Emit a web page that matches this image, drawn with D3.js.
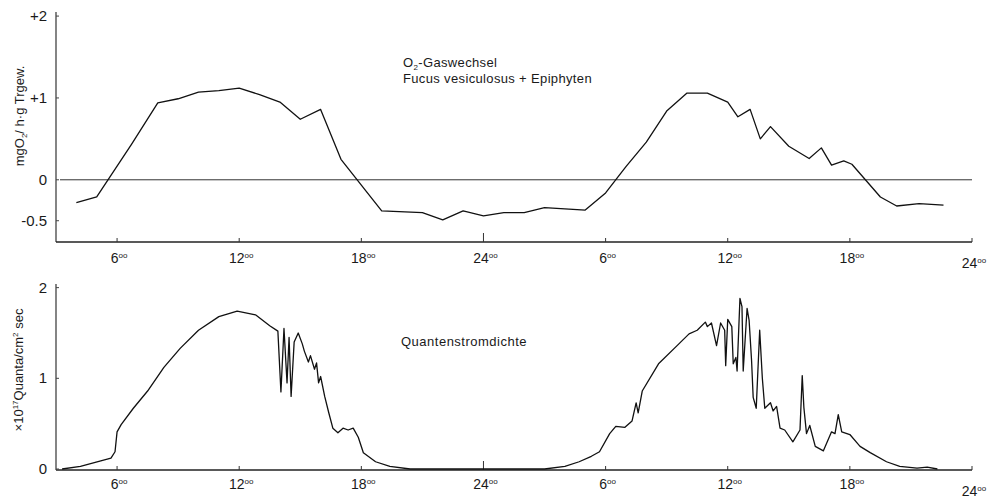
<!DOCTYPE html>
<html>
<head>
<meta charset="utf-8">
<script src="https://cdn.jsdelivr.net/npm/d3@7"></script>
<style>
  body { margin: 0; background: #fff; }
  svg text { font-family: "Liberation Sans", Arial, sans-serif; fill: #1a1a1a; }
</style>
</head>
<body>
<div id="chart"></div>
<script>
// hour ticks on both time axes (day 1 -> day 2)
const hourTicks = [6, 12, 18, 24, 30, 36, 42, 48];
const hourLabels = ["6", "12", "18", "24", "6", "12", "18", "24"];

// O2 gas exchange, mg O2 / h g dry weight
const o2Hours = [4.0, 5.0, 6.7, 8.0, 9.0, 10.0, 11.0, 12.0, 13.0, 14.0, 15.0, 16.0, 17.0,
  19.0, 21.0, 22.0, 23.0, 24.0, 25.0, 26.0, 27.0, 29.0, 30.0, 31.0, 32.0, 33.0, 34.0, 35.0,
  36.0, 36.5, 37.1, 37.6, 38.1, 39.0, 40.0, 40.6, 41.1, 41.7, 42.1, 43.5, 44.3, 45.4, 46.6];
const o2Values = [-0.28, -0.21, 0.43, 0.94, 0.99, 1.07, 1.09, 1.12, 1.04, 0.95, 0.74, 0.86, 0.25,
  -0.38, -0.40, -0.49, -0.38, -0.44, -0.40, -0.40, -0.34, -0.37, -0.16, 0.16, 0.46, 0.84, 1.06, 1.06,
  0.95, 0.77, 0.86, 0.50, 0.65, 0.41, 0.26, 0.39, 0.18, 0.23, 0.19, -0.21, -0.32, -0.29, -0.31];
const o2Ticks = [2, 1, 0, -0.5];
const o2TickLabels = ["+2", "+1", "0", "-0.5"];

// photon flux density, x10^17 quanta / cm2 sec
const lightHours = [3.3, 4.2, 5.2, 5.7, 5.9, 6.0, 6.2, 6.8, 7.5, 8.3, 9.1, 10.0, 11.0, 11.9,
  12.8, 13.5, 13.9, 14.05, 14.2, 14.35, 14.45, 14.55, 14.7, 14.9, 15.1, 15.2, 15.4, 15.5, 15.7,
  15.8, 15.9, 16.0, 16.2, 16.4, 16.6, 16.85, 17.1, 17.35, 17.6, 17.85, 18.1, 18.7, 19.4, 20.4, 21.9,
  27.0, 28.0, 28.7, 29.3, 29.7, 30.2, 30.5, 30.95, 31.3, 31.5, 31.6, 31.8, 32.6, 33.6, 34.1, 34.5,
  34.9, 35.0, 35.2, 35.45, 35.65, 35.85, 35.9, 36.0, 36.2, 36.27, 36.4, 36.46, 36.6, 36.7, 36.76,
  36.95, 37.05, 37.17, 37.25, 37.4, 37.57, 37.7, 37.82, 38.1, 38.23, 38.4, 38.57, 38.8, 39.2,
  39.55, 39.66, 39.74, 39.87, 40.03, 40.3, 40.7, 41.1, 41.27, 41.43, 41.6, 42.0, 42.5, 43.0, 43.8,
  44.45, 45.3, 45.8, 46.3];
const lightValues = [0.0, 0.03, 0.09, 0.12, 0.19, 0.41, 0.49, 0.67, 0.86, 1.12, 1.33, 1.53, 1.68, 1.74,
  1.70, 1.58, 1.52, 0.85, 1.55, 0.95, 1.45, 0.80, 1.40, 1.50, 1.38, 1.30, 1.18, 1.25, 1.10,
  1.17, 0.95, 1.02, 0.80, 0.62, 0.45, 0.40, 0.45, 0.43, 0.45, 0.35, 0.18, 0.08, 0.03, 0.0, 0.0,
  0.0, 0.03, 0.08, 0.14, 0.19, 0.39, 0.47, 0.46, 0.53, 0.73, 0.62, 0.86, 1.16, 1.38, 1.49, 1.53,
  1.62, 1.57, 1.61, 1.36, 1.61, 1.53, 1.14, 1.65, 1.57, 1.16, 1.23, 1.08, 1.88, 1.79, 1.08,
  1.77, 1.64, 1.20, 0.79, 0.67, 1.53, 1.00, 0.67, 0.73, 0.64, 0.69, 0.45, 0.43, 0.30,
  0.43, 1.03, 0.68, 0.39, 0.48, 0.25, 0.20, 0.41, 0.39, 0.60, 0.41, 0.38, 0.25, 0.18, 0.08,
  0.03, 0.01, 0.02, 0.0];
const lightTicks = [0, 1, 2];
const lightTickLabels = ["0", "1", "2"];

var svg = d3.select("#chart").append("svg")
            .attr("width", 994)
            .attr("height", 499);

var x = d3.scaleLinear().domain([3, 48]).range([56, 972]);

/**Puts the hour labels (with the small raised 00) under one time axis.
 * @param {*} baseY baseline of the labels.
 * @param {*} lastY baseline of the last 24 label, which sits a little lower.
 */
function hour_labels(baseY, lastY) {

   var t = svg.append("g").selectAll("text")
              .data(hourTicks)
              .join("text")
              .attr("x", function(d) { return x(d) + 2; })
              .attr("y", function(d, i) { return i == hourTicks.length - 1 ? lastY : baseY; })
              .attr("text-anchor", "middle")
              .attr("font-size", 14);
   t.append("tspan").text(function(d, i) { return hourLabels[i]; });
   t.append("tspan").attr("font-size", 8).attr("dy", -5).text("oo");
}

/**Draws one panel: axes, ticks and the series line.
 * @param {*} y the vertical scale of the panel.
 * @param {*} hours x values of the series.
 * @param {*} values y values of the series.
 * @param {*} ticks y tick values, labels the texts for them.
 */
function draw_panel(y, hours, values, ticks, labels, axisY) {

   var g = svg.append("g");
   // y axis line
   g.append("line")
    .attr("x1", 56).attr("x2", 56)
    .attr("y1", y.range()[1]).attr("y2", axisY)
    .attr("stroke", "#333").attr("stroke-width", 1.2);
   // x axis line
   g.append("line")
    .attr("x1", 56).attr("x2", x(48))
    .attr("y1", axisY).attr("y2", axisY)
    .attr("stroke", "#222").attr("stroke-width", 1.4);
   // small y ticks
   g.selectAll(".yt").data(ticks).join("line")
    .attr("x1", 56).attr("x2", 59)
    .attr("y1", function(d) { return y(d); }).attr("y2", function(d) { return y(d); })
    .attr("stroke", "#444");
   g.selectAll(".yl").data(ticks).join("text")
    .attr("x", 47)
    .attr("y", function(d) { return y(d) + 5; })
    .attr("text-anchor", "end")
    .attr("font-size", 15)
    .text(function(d, i) { return labels[i]; });
   // hour ticks, the midnight one a bit longer
   g.selectAll(".xt").data(hourTicks).join("line")
    .attr("x1", function(d) { return x(d); }).attr("x2", function(d) { return x(d); })
    .attr("y1", axisY)
    .attr("y2", function(d) { return d == 24 ? axisY - 9 : axisY - 4; })
    .attr("stroke", "#333");

   g.append("path")
    .datum(d3.zip(hours, values))
    .attr("fill", "none")
    .attr("stroke", "#111")
    .attr("stroke-width", 1.3)
    .attr("stroke-linejoin", "round")
    .attr("d", d3.line()
              .x(function(d) { return x(d[0]); })
              .y(function(d) { return y(d[1]); }));
}

// top panel: O2 exchange
var yO2 = d3.scaleLinear().domain([-0.76, 2.05]).range([242, 12]);
svg.append("line")
   .attr("x1", 60).attr("x2", x(48))
   .attr("y1", yO2(0)).attr("y2", yO2(0))
   .attr("stroke", "#333").attr("stroke-width", 1);
draw_panel(yO2, o2Hours, o2Values, o2Ticks, o2TickLabels, 242);
hour_labels(263, 268);

var ttl = svg.append("text").attr("x", 403).attr("y", 67)
             .attr("font-size", 13).attr("letter-spacing", 0.35);
ttl.append("tspan").text("O");
ttl.append("tspan").attr("font-size", 8).attr("dy", 3).text("2");
ttl.append("tspan").attr("dy", -3).text("-Gaswechsel");
svg.append("text").attr("x", 403).attr("y", 83)
   .attr("font-size", 13).attr("letter-spacing", 0.35)
   .text("Fucus vesiculosus + Epiphyten");

var yl1 = svg.append("text")
             .attr("transform", "translate(24,116) rotate(-90)")
             .attr("text-anchor", "middle")
             .attr("font-size", 13);
yl1.append("tspan").text("mgO");
yl1.append("tspan").attr("font-size", 8).attr("dy", 3).text("2");
yl1.append("tspan").attr("dy", -3).text("/ h\u00b7g Trgew.");

// bottom panel: photon flux
var yLight = d3.scaleLinear().domain([0, 2.04]).range([469, 284]);
draw_panel(yLight, lightHours, lightValues, lightTicks, lightTickLabels, 470);
hour_labels(489, 496);

svg.append("text").attr("x", 401).attr("y", 346)
   .attr("font-size", 13).attr("letter-spacing", 0.5)
   .text("Quantenstromdichte");

var yl2 = svg.append("text")
             .attr("transform", "translate(23,370) rotate(-90)")
             .attr("text-anchor", "middle")
             .attr("font-size", 13);
yl2.append("tspan").text("\u00d710");
yl2.append("tspan").attr("font-size", 8).attr("dy", -5).text("17");
yl2.append("tspan").attr("dy", 5).text("Quanta/cm");
yl2.append("tspan").attr("font-size", 8).attr("dy", -5).text("2");
yl2.append("tspan").attr("dy", 5).text(" sec");
</script>
</body>
</html>
